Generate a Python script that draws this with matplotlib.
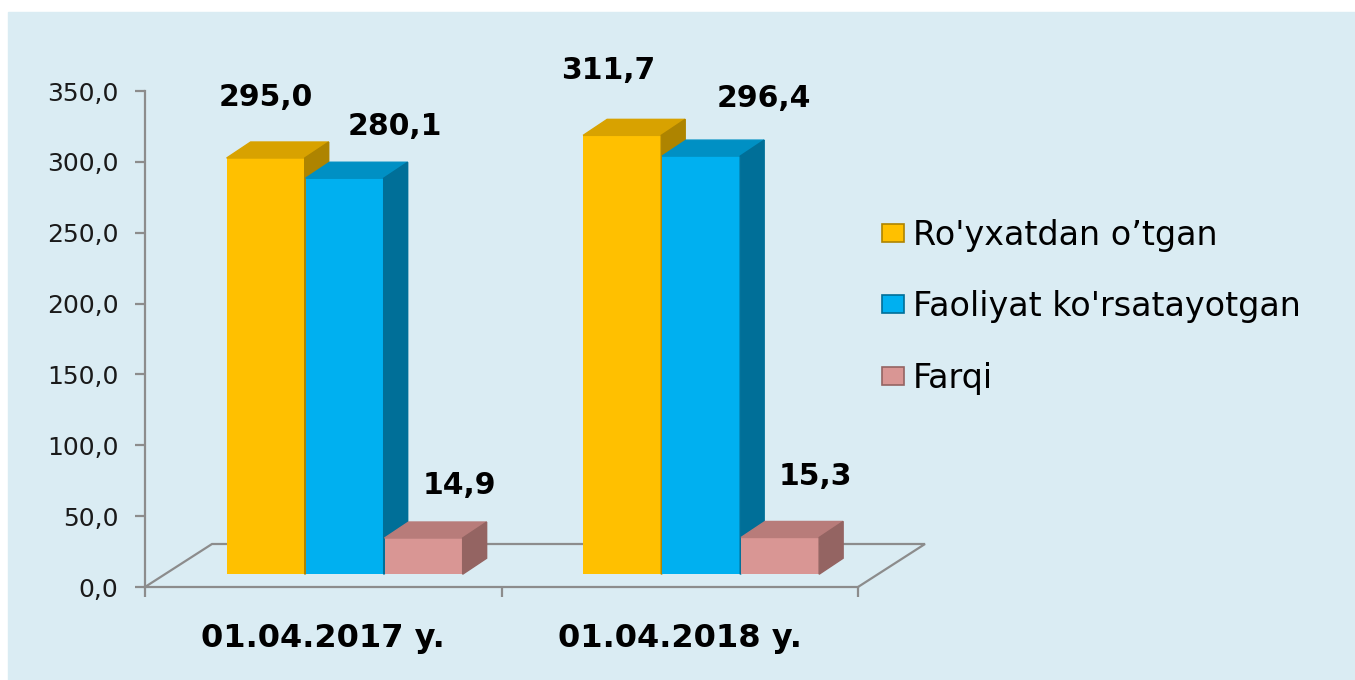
import matplotlib.pyplot as plt
from matplotlib.patches import Rectangle, Polygon, Patch
from matplotlib.ticker import FuncFormatter

# data
categories = ['01.04.2017 y.', '01.04.2018 y.']
series_names = ["Ro'yxatdan o’tgan", "Faoliyat ko'rsatayotgan", 'Farqi']
registered = [295.0, 311.7]
active = [280.1, 296.4]
difference = [14.9, 15.3]

# styling
W, H = 1355, 680
BG = '#DAECF3'
GRID = '#8C8C8C'
front_cols = ['#FFC000', '#00B0F0', '#D99694']
top_cols = ['#D8A200', '#0090C4', '#B87C7A']
side_cols = ['#AE8400', '#006F98', '#946462']

# label nudges in pixels (dx, dy up), the labels were placed by hand
label_shift = [[(0, 61), (50, 52), (36, 53)],
               [(-14, 65), (63, 58), (35, 61)]]


def fmt(v, pos=None):
    return f'{v:.1f}'.replace('.', ',')


fig = plt.figure(figsize=(W / 100, H / 100), dpi=100)
fig.patch.set_facecolor('white')
fig.add_artist(Rectangle((8 / W, 0), 1 - 8 / W, 1 - 12 / H,
                         transform=fig.transFigure, color=BG, zorder=0))

rect = [145 / W, 1 - 587 / H, 713 / W, 496 / H]
ax = fig.add_axes(rect)
ax.set_facecolor('none')
ax.set_xlim(-0.5, 1.5)
ax.set_ylim(0, 350)
ax.set_yticks(range(0, 351, 50))
ax.yaxis.set_major_formatter(FuncFormatter(fmt))
ax.set_xticks([-0.5, 0.5, 1.5], labels=['', '', ''])
ax.set_xticks([0, 1], labels=categories, minor=True)
for s in ['top', 'right']:
    ax.spines[s].set_visible(False)
for s in ['left', 'bottom']:
    ax.spines[s].set_color(GRID)
    ax.spines[s].set_linewidth(1.6)
ax.tick_params(axis='y', length=7.2, width=1.6, color=GRID, pad=12,
               labelsize=18, labelcolor='#1a1a1a')
ax.tick_params(axis='x', which='major', length=7.2, width=1.6, color=GRID)
ax.tick_params(axis='x', which='minor', length=0, pad=26, labelsize=23)
for t in ax.get_xticklabels(minor=True):
    t.set_fontweight('bold')

# floor of the 3d box
fdx, fdy = 67 / 356.5, 43 / (496 / 350)
x0, x1 = ax.get_xlim()
ax.plot([x0, x0 + fdx, x1 + fdx, x1], [0, fdy, fdy, 0],
        color=GRID, lw=1.6, clip_on=False, solid_joinstyle='miter')

# bars live on their own axes: the 3d view puts them lower than the wall scale
ax2 = fig.add_axes(rect)
ax2.set_xlim(-0.5, 1.5)
ax2.set_ylim(-21.2, 344.4)
ax2.axis('off')

width = 0.219
step = 0.2215
shift = 0.06
base = -11.8
ddx, ddy = 24 / 356.5, 11.8

series = [registered, active, difference]
for g in range(len(categories)):
    for i, vals in enumerate(series):
        v = vals[g]
        xc = g + shift + (i - 1) * step
        l, r = xc - width / 2, xc + width / 2
        ax2.bar(xc, v - base, bottom=base, width=width,
                color=front_cols[i], zorder=3 + g * 3 + i)
        ax2.add_patch(Polygon([(l, v), (r, v), (r + ddx, v + ddy), (l + ddx, v + ddy)],
                              closed=True, color=top_cols[i], zorder=3 + g * 3 + i))
        ax2.add_patch(Polygon([(r, base), (r + ddx, base + ddy), (r + ddx, v + ddy), (r, v)],
                              closed=True, color=side_cols[i], zorder=3 + g * 3 + i))
        dx, dy = label_shift[g][i]
        ax2.annotate(fmt(v), (xc, v), xytext=(dx * 0.72, dy * 0.72),
                     textcoords='offset points', ha='center', va='center',
                     fontsize=21.5, fontweight='bold', color='black', zorder=20)

handles = [Patch(facecolor=front_cols[i], edgecolor=side_cols[i], lw=1.2)
           for i in range(3)]
fig.legend(handles, series_names, loc='upper left',
           bbox_to_anchor=(882 / W, 1 - 219 / H), frameon=False,
           fontsize=24, handlelength=0.66, handleheight=0.45,
           handletextpad=0.27, labelspacing=1.15, borderpad=0, borderaxespad=0)

plt.savefig('out.png', dpi=100, facecolor=fig.get_facecolor())
